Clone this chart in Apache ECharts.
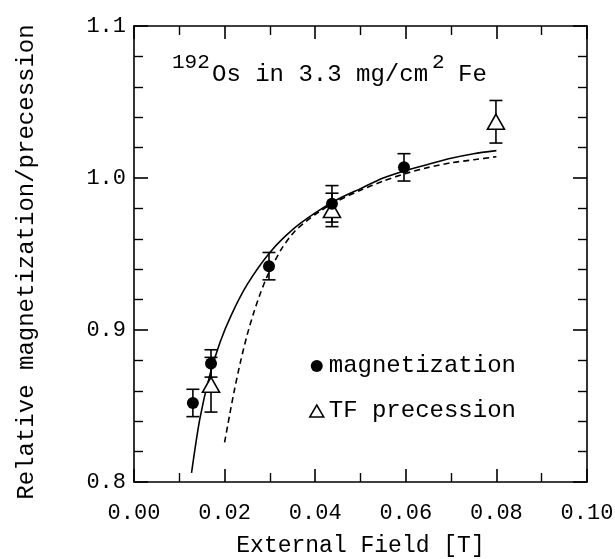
<!DOCTYPE html>
<html>
<head>
<meta charset="utf-8">
<script src="https://cdn.jsdelivr.net/npm/echarts@6/dist/echarts.min.js"></script>
<style>html,body{margin:0;padding:0;background:#fff;}#c{width:615px;height:559px;}</style>
</head>
<body>
<div id="c"></div>
<script>
// ---- data ----
const magX   = [0.013, 0.017, 0.0298, 0.0437, 0.0596];
const magY   = [0.852, 0.878, 0.942, 0.983, 1.007];
const magErr = [0.009, 0.009, 0.009, 0.012, 0.009];

const tfX   = [0.017, 0.0437, 0.0799];
const tfY   = [0.864, 0.979, 1.037];
const tfErr = [0.018, 0.011, 0.014];

const solidX = [0.0127, 0.0145, 0.0167, 0.019, 0.0215, 0.025, 0.030, 0.035, 0.040, 0.045, 0.050, 0.055, 0.060, 0.065, 0.070, 0.075, 0.080];
const solidY = [0.806, 0.841, 0.870, 0.892, 0.910, 0.930, 0.951, 0.966, 0.977, 0.986, 0.993, 1.000, 1.005, 1.009, 1.013, 1.016, 1.018];

const dashX = [0.020, 0.0211, 0.0222, 0.0235, 0.025, 0.0265, 0.028, 0.0295, 0.0325, 0.0355, 0.040, 0.045, 0.050, 0.055, 0.060, 0.065, 0.070, 0.075, 0.080];
const dashY = [0.826, 0.844, 0.861, 0.879, 0.897, 0.912, 0.925, 0.936, 0.953, 0.965, 0.976, 0.985, 0.992, 0.998, 1.003, 1.007, 1.010, 1.012, 1.014];

const xTicks = ['0.00','0.02','0.04','0.06','0.08','0.10'];
const yTicks = ['0.8','0.9','1.0','1.1'];

const FONT = '"Liberation Mono", "Courier New", monospace';
const zip = (a, b) => a.map((v, i) => [v, b[i]]);
const zip3 = (a, b, c) => a.map((v, i) => [v, b[i], c[i]]);

function errRender(params, api) {
  const x = api.value(0), y = api.value(1), e = api.value(2);
  const top = api.coord([x, y + e]);
  const bot = api.coord([x, y - e]);
  const w = 6.5;
  const st = { stroke: '#000', lineWidth: 1.6 };
  return {
    type: 'group',
    children: [
      { type: 'line', shape: { x1: top[0], y1: top[1], x2: bot[0], y2: bot[1] }, style: st },
      { type: 'line', shape: { x1: top[0] - w, y1: top[1], x2: top[0] + w, y2: top[1] }, style: st },
      { type: 'line', shape: { x1: bot[0] - w, y1: bot[1], x2: bot[0] + w, y2: bot[1] }, style: st }
    ]
  };
}

const chart = echarts.init(document.getElementById('c'), null, { renderer: 'canvas' });

const axisLine = { show: true, onZero: false, lineStyle: { color: '#000', width: 1.6 } };

const option = {
  animation: false,
  backgroundColor: '#fff',
  grid: { left: 134, right: 28, top: 26, bottom: 77, containLabel: false, outerBoundsMode: 'none' },
  xAxis: [
    {
      type: 'value', min: 0, max: 0.1, interval: 0.02, position: 'bottom',
      axisLine: axisLine,
      axisTick: { show: true, inside: true, length: 13, lineStyle: { color: '#000', width: 1.6 } },
      minorTick: { show: true, splitNumber: 2, length: 9, lineStyle: { color: '#000', width: 1.4 } },
      splitLine: { show: false },
      axisLabel: { color: '#000', fontFamily: FONT, fontSize: 22, margin: 20,
        formatter: v => xTicks[Math.round(v / 0.02)] },
      name: 'External Field [T]', nameLocation: 'middle', nameGap: 52,
      nameTextStyle: { color: '#000', fontFamily: FONT, fontSize: 23 }
    },
    {
      type: 'value', min: 0, max: 0.1, interval: 0.02, position: 'top',
      axisLine: axisLine,
      axisTick: { show: true, inside: true, length: 13, lineStyle: { color: '#000', width: 1.6 } },
      minorTick: { show: true, splitNumber: 2, length: 9, lineStyle: { color: '#000', width: 1.4 } },
      splitLine: { show: false }, axisLabel: { show: false }
    }
  ],
  yAxis: [
    {
      type: 'value', min: 0.8, max: 1.1, interval: 0.1, position: 'left',
      axisLine: axisLine,
      axisTick: { show: true, inside: true, length: 14, lineStyle: { color: '#000', width: 1.6 } },
      minorTick: { show: true, splitNumber: 5, length: 9, lineStyle: { color: '#000', width: 1.4 } },
      splitLine: { show: false },
      axisLabel: { color: '#000', fontFamily: FONT, fontSize: 22, margin: 8,
        formatter: v => yTicks[Math.round((v - 0.8) / 0.1)] }
    },
    {
      type: 'value', min: 0.8, max: 1.1, interval: 0.1, position: 'right',
      axisLine: axisLine,
      axisTick: { show: true, inside: true, length: 14, lineStyle: { color: '#000', width: 1.6 } },
      minorTick: { show: true, splitNumber: 5, length: 9, lineStyle: { color: '#000', width: 1.4 } },
      splitLine: { show: false }, axisLabel: { show: false }
    }
  ],
  legend: {
    orient: 'vertical', left: 309, top: 354, itemGap: 21, padding: 0,
    itemWidth: 14, itemHeight: 12,
    textStyle: { color: '#000', fontFamily: FONT, fontSize: 24 },
    data: [
      { name: 'magnetization', icon: 'circle', itemStyle: { color: '#000', borderWidth: 0 } },
      { name: 'TF precession', icon: 'triangle', itemStyle: { color: '#fff', borderColor: '#000', borderWidth: 1.5 } }
    ]
  },
  graphic: [
    { type: 'text', left: 172, top: 52, style: { text: '192', font: '21px ' + FONT, fill: '#000' } },
    { type: 'text', left: 212, top: 63, style: { text: 'Os in 3.3 mg/cm', font: '24px ' + FONT, fill: '#000' } },
    { type: 'text', left: 432, top: 52, style: { text: '2', font: '21px ' + FONT, fill: '#000' } },
    { type: 'text', left: 458, top: 63, style: { text: 'Fe', font: '24px ' + FONT, fill: '#000' } },
    { type: 'text', x: 27, y: 262, rotation: Math.PI / 2,
      style: { text: 'Relative magnetization/precession', font: '24px ' + FONT, fill: '#000',
               textAlign: 'center', textVerticalAlign: 'middle' } }
  ],
  series: [
    { name: 'fit', type: 'line', data: zip(solidX, solidY), smooth: 0.25, showSymbol: false, symbol: 'none',
      lineStyle: { color: '#000', width: 1.6 }, z: 2, silent: true },
    { name: 'fit2', type: 'line', data: zip(dashX, dashY), smooth: 0.25, showSymbol: false, symbol: 'none',
      lineStyle: { color: '#000', width: 1.6, type: [6, 4] }, z: 2, silent: true },
    { name: 'errMag', type: 'custom', renderItem: errRender, data: zip3(magX, magY, magErr), z: 3, silent: true },
    { name: 'errTF', type: 'custom', renderItem: errRender, data: zip3(tfX, tfY, tfErr), z: 3, silent: true },
    { name: 'TF precession', type: 'scatter', data: zip(tfX, tfY), symbol: 'triangle', symbolSize: [17, 15],
      itemStyle: { color: '#fff', borderColor: '#000', borderWidth: 1.6, opacity: 1 }, z: 4 },
    { name: 'magnetization', type: 'scatter', data: zip(magX, magY), symbol: 'circle', symbolSize: 12,
      itemStyle: { color: '#000', opacity: 1 }, z: 5 }
  ]
};
chart.setOption(option);
</script>
</body>
</html>
